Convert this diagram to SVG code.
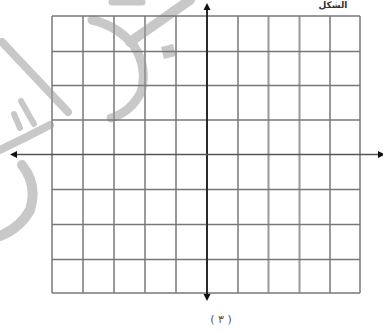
<svg xmlns="http://www.w3.org/2000/svg" width="383" height="333" viewBox="0 0 383 333">
<defs>
<style>
.wm{fill:none;stroke:#c8c8c8;stroke-linecap:round;stroke-linejoin:round}
.gv{stroke:#9a9a9a;stroke-width:2}
.gh{stroke:#777;stroke-width:1.4}
.ax{stroke:#2a2a2a;stroke-width:2}
.ah{fill:#111}
.lbl{font-family:"DejaVu Sans","Noto Sans",sans-serif;fill:#555}
</style>
</defs>
<rect width="383" height="333" fill="#fff"/>
<g id="watermark">
<path class="wm" stroke-width="8" d="M2,42 L68,112"/>
<path class="wm" stroke-width="9" d="M92,20 Q118,26 134,46 Q148,68 141,92 Q131,112 111,118"/>
<path class="wm" stroke-width="10" d="M190,0 L130,42"/>
<path class="wm" stroke-width="7" d="M112,2 L142,2"/>
<path fill="#c8c8c8" d="M161,47 L173,44 L176,56 L164,59 Z"/>
<path class="wm" stroke-width="8" d="M0,150 Q25,138 50,125"/>
<path class="wm" stroke-width="6" d="M14,114 L20,128"/>
<path class="wm" stroke-width="6" d="M21,101 L34,124"/>
<path class="wm" stroke-width="10" d="M22,165 Q38,185 30,210 Q20,228 0,236"/>
</g>
<g id="grid">
<g class="gv">
<line x1="52" y1="16" x2="52" y2="293"/>
<line x1="83" y1="16" x2="83" y2="293"/>
<line x1="114" y1="16" x2="114" y2="293"/>
<line x1="145" y1="16" x2="145" y2="293"/>
<line x1="176" y1="16" x2="176" y2="293"/>
<line x1="238" y1="16" x2="238" y2="293"/>
<line x1="268.5" y1="16" x2="268.5" y2="293"/>
<line x1="299.5" y1="16" x2="299.5" y2="293"/>
<line x1="330" y1="16" x2="330" y2="293"/>
<line x1="360" y1="16" x2="360" y2="293"/>
</g>
<g class="gh">
<line x1="52" y1="16" x2="360" y2="16"/>
<line x1="52" y1="51.5" x2="360" y2="51.5"/>
<line x1="52" y1="85.5" x2="360" y2="85.5"/>
<line x1="52" y1="120" x2="360" y2="120"/>
<line x1="52" y1="189.5" x2="360" y2="189.5"/>
<line x1="52" y1="224.5" x2="360" y2="224.5"/>
<line x1="52" y1="259.5" x2="360" y2="259.5"/>
<line x1="52" y1="293" x2="360" y2="293"/>
</g>
</g>
<g id="axes">
<line class="ax" x1="207" y1="6" x2="207" y2="298"/>
<line class="ax" x1="14" y1="154.5" x2="383" y2="154.5" style="stroke:#555;stroke-width:1.6"/>
<path class="ah" d="M207,3 L210.5,10 L203.5,10 Z"/>
<path class="ah" d="M207,301 L210.5,294 L203.5,294 Z"/>
<path class="ah" d="M10,154.5 L17,151 L17,158 Z"/>
<path class="ah" d="M385,154.5 L378,151 L378,158 Z"/>
</g>
<text class="lbl" x="221" y="323" font-size="11" text-anchor="middle">( ٣ )</text>
<text class="lbl" x="333" y="8" font-size="9" font-weight="bold" text-anchor="middle" style="fill:#333">الشكل</text>
</svg>
